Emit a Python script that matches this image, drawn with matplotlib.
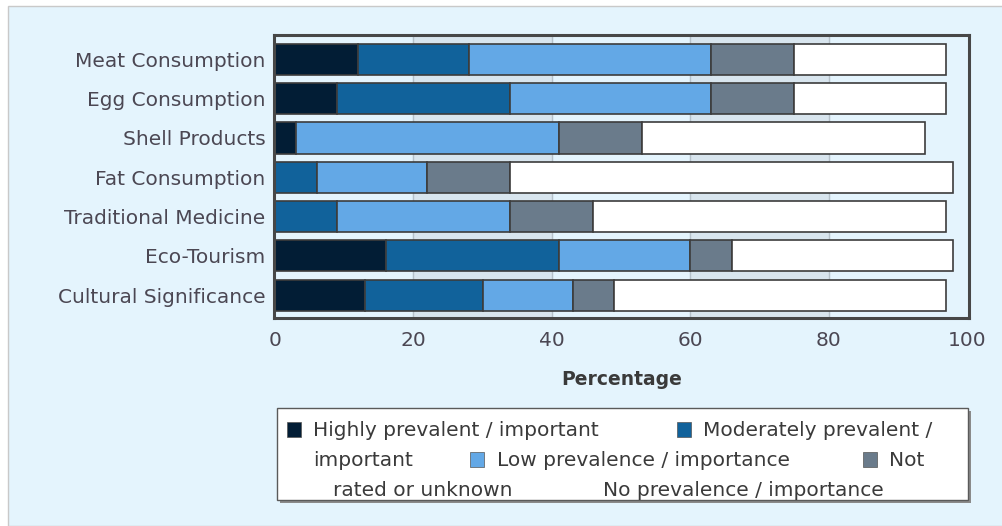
import numpy as np
import matplotlib.pyplot as plt
from matplotlib.patches import Rectangle

# data (percent)
categories = ['Meat Consumption', 'Egg Consumption', 'Shell Products',
              'Fat Consumption', 'Traditional Medicine', 'Eco-Tourism',
              'Cultural Significance']
highly = [12, 9, 3, 0, 0, 16, 13]
moderately = [16, 25, 0, 6, 9, 25, 17]
low = [35, 29, 38, 16, 25, 19, 13]
not_rated = [12, 12, 12, 12, 12, 6, 6]
none = [22, 22, 41, 64, 51, 32, 48]

series = [highly, moderately, low, not_rated, none]
colors = ['#021d35', '#11629b', '#63a8e6', '#6a7b8b', '#ffffff']
xticks = [0, 20, 40, 60, 80, 100]

FS = 14.5
W, H = 1003, 526
fig = plt.figure(figsize=(W / 100, H / 100), dpi=100, facecolor='white')
plt.rcParams['font.family'] = ['DejaVu Sans']

# light blue panel behind everything
fig.patches.append(Rectangle((8 / W, 0), 1, 1 - 6 / H, transform=fig.transFigure,
                             facecolor='#e4f4fd', edgecolor='#c9c9c9',
                             linewidth=1, zorder=-10))

ax = fig.add_axes([274 / W, 1 - 318 / H, (969 - 274) / W, (318 - 35) / H])
ax.set_facecolor('#e4f4fd')

# alternating bands and grid lines
for a, b in [(20, 40), (60, 80)]:
    ax.axvspan(a, b, color='#d8e5ee', zorder=0)
for t in xticks[1:-1]:
    ax.axvline(t, color='#b5c1ca', lw=1, zorder=0.5)

y = np.arange(len(categories))
left = np.zeros(len(categories))
for vals, c in zip(series, colors):
    ax.barh(y, vals, left=left, height=0.79, color=c,
            edgecolor='#3c3c3c', linewidth=1.2, zorder=2)
    left += np.array(vals)

ax.set_xlim(-0.15, 100.3)
ax.set_ylim(6.58, -0.62)
ax.set_yticks(y)
ax.set_yticklabels(categories, fontsize=FS, color='#4b4753')
ax.set_xticks(xticks)
ax.set_xticklabels([str(t) for t in xticks], fontsize=FS, color='#4b4753')
ax.tick_params(axis='y', length=0, pad=6)
ax.tick_params(axis='x', length=0, pad=9)
for s in ax.spines.values():
    s.set_color('#474747')
    s.set_linewidth(2.2)
ax.set_xlabel('Percentage', fontsize=FS - 1, fontweight='bold', color='#3a3a3a',
              labelpad=15)

# legend box drawn by hand to follow the wrapped HTML layout
def px(x, yy):
    return x / W, 1 - yy / H

fig.patches.append(Rectangle(px(280, 503), (968 - 277) / W, (500 - 408) / H,
                             transform=fig.transFigure, facecolor='#8a8a8a',
                             edgecolor='none', zorder=1))
fig.patches.append(Rectangle(px(277, 500), (968 - 277) / W, (500 - 408) / H,
                             transform=fig.transFigure, facecolor='white',
                             edgecolor='#5a5a5a', linewidth=1, zorder=2))

legend_rows = [
    (430, [(287, colors[0], 'Highly prevalent / important'),
           (677, colors[1], 'Moderately prevalent /')]),
    (460, [(None, None, 'important'),
           (470, colors[2], 'Low prevalence / importance'),
           (863, colors[3], 'Not')]),
    (490, [(None, None, 'rated or unknown'),
           (583, colors[4], 'No prevalence / importance')]),
]
text_x = {430: [313, 703], 460: [313, 497, 889], 490: [333, 603]}
for yy, items in legend_rows:
    for (sx, col, label), tx in zip(items, text_x[yy]):
        if sx is not None:
            fig.patches.append(Rectangle(px(sx, yy + 7), 14 / W, 15 / H,
                                         transform=fig.transFigure,
                                         facecolor=col, edgecolor='#ffffff' if col == '#ffffff' else '#555555',
                                         linewidth=0.5, zorder=3))
        fig.text(*px(tx, yy), label, fontsize=FS, color='#3a3a3a',
                 va='center', ha='left', zorder=4)

fig.savefig('out.png', dpi=100, facecolor=fig.get_facecolor())
